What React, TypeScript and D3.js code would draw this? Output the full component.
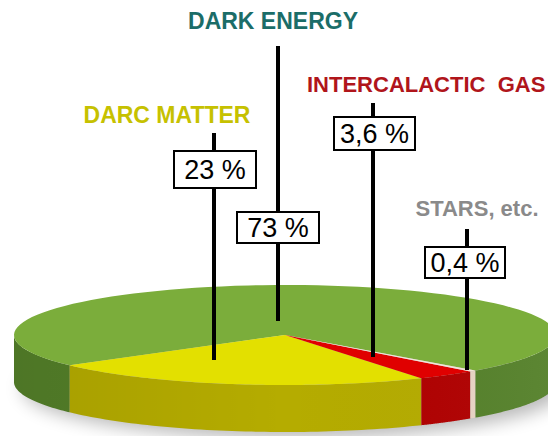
import React from "react";
import * as d3 from "d3";

// Composition of the universe
const categories = ["DARK ENERGY", "DARC MATTER", "INTERCALACTIC  GAS", "STARS, etc."];
const shares = [73, 23, 3.6, 0.4];
const valueLabels = ["73 %", "23 %", "3,6 %", "0,4 %"];

const topColors = ["#7bad3b", "#e3e000", "#e00000", "#f4e4d8"];
const sideColors = ["#548029", "#b5ac00", "#b00000", "#e8d4c4"];
const titleColors = ["#1b6d68", "#c6c100", "#b0151b", "#8a8a8a"];

// Label callouts: title anchor, value box and leader line
const callouts = [
  { tx: 273, ty: 29, lx: 278, lineTop: 46, lineBottom: 321, bx: 237, by: 212, bw: 82, bh: 31, fs: 23 },
  { tx: 167, ty: 123, lx: 214, lineTop: 133, lineBottom: 360, bx: 174, by: 151, bw: 82, bh: 37, fs: 23 },
  { tx: 307, ty: 92, lx: 373, lineTop: 103, lineBottom: 357, bx: 334, by: 117, bw: 81, bh: 33, fs: 22, anchor: "start" },
  { tx: 477, ty: 216, lx: 467, lineTop: 229, lineBottom: 370, bx: 425, by: 247, bw: 80, bh: 31, fs: 22 },
];

const W = 548;
const H = 436;
const cx = 285;
const cy = 335;
const rx = 271;
const ry = 50;
const depth = 47;
const startDeg = 135.4;

const pie = d3
  .pie<number>()
  .sort(null)
  .value((d) => d)
  .startAngle((startDeg * Math.PI) / 180)
  .endAngle(((startDeg - 360) * Math.PI) / 180);

const arcs = pie(shares);

const px = (t: number) => cx + rx * Math.cos(t);
const py = (t: number, dy = 0) => cy + dy + ry * Math.sin(t);

function samples(a: number, b: number, n = 90) {
  return d3.range(n + 1).map((i) => a + ((b - a) * i) / n);
}

function topPath(a: number, b: number) {
  const p = d3.path();
  p.moveTo(cx, cy);
  samples(a, b).forEach((t) => p.lineTo(px(t), py(t)));
  p.closePath();
  return p.toString();
}

function sidePath(a: number, b: number) {
  const p = d3.path();
  const ts = samples(a, b, 60);
  p.moveTo(px(ts[0]), py(ts[0]));
  ts.forEach((t) => p.lineTo(px(t), py(t)));
  ts.slice().reverse().forEach((t) => p.lineTo(px(t), py(t, depth)));
  p.closePath();
  return p.toString();
}

// Portions of [lo, hi] that face the viewer (screen angles 0..π)
function frontParts(lo: number, hi: number) {
  const out: [number, number][] = [];
  for (let k = -2; k <= 2; k++) {
    const s = Math.max(lo, k * 2 * Math.PI);
    const e = Math.min(hi, k * 2 * Math.PI + Math.PI);
    if (e > s) out.push([s, e]);
  }
  return out;
}

const slices = arcs.map((a, i) => {
  const s = a.startAngle - Math.PI / 2;
  const e = a.endAngle - Math.PI / 2;
  return { i, lo: Math.min(s, e), hi: Math.max(s, e) };
});

export default function App() {
  return (
    <svg width={W} height={H} style={{ position: "absolute", left: 0, top: 0, background: "#fff" }}>
      <defs>
        <filter id="shadowBlur" x="-20%" y="-100%" width="140%" height="300%">
          <feGaussianBlur stdDeviation="9" />
        </filter>
        <linearGradient id="sideShade" x1="0" x2="1" y1="0" y2="0">
          <stop offset="0" stopColor="#000" stopOpacity="0.08" />
          <stop offset="0.5" stopColor="#000" stopOpacity="0" />
          <stop offset="1" stopColor="#fff" stopOpacity="0.05" />
        </linearGradient>
      </defs>

      <ellipse cx={cx + 8} cy={cy + depth + 6} rx={rx} ry={ry} fill="#000" opacity={0.28} filter="url(#shadowBlur)" />

      <g>
        {slices.map((s) =>
          frontParts(s.lo, s.hi).map(([a, b], j) => (
            <path key={`side-${s.i}-${j}`} d={sidePath(a, b)} fill={sideColors[s.i]} />
          ))
        )}
        <path d={sidePath(0, Math.PI)} fill="url(#sideShade)" />
      </g>

      <g>
        {slices.map((s) => (
          <path key={`top-${s.i}`} d={topPath(s.lo, s.hi)} fill={topColors[s.i]} />
        ))}
      </g>

      <g fontFamily="'Liberation Sans', Arial, sans-serif">
        {callouts.map((c, i) => (
          <g key={`call-${i}`}>
            <text
              x={c.tx}
              y={c.ty}
              fontSize={c.fs}
              fontWeight="bold"
              fill={titleColors[i]}
              textAnchor={c.anchor ?? "middle"}
              style={{ whiteSpace: "pre" }}
            >
              {categories[i]}
            </text>
            <line x1={c.lx} x2={c.lx} y1={c.lineTop} y2={c.lineBottom} stroke="#000" strokeWidth={4} />
            <rect x={c.bx} y={c.by} width={c.bw} height={c.bh} fill="#fff" stroke="#000" strokeWidth={2} />
            <text
              x={c.bx + c.bw / 2}
              y={c.by + c.bh / 2 + 9.5}
              fontSize={27}
              textAnchor="middle"
              fill="#000"
            >
              {valueLabels[i]}
            </text>
          </g>
        ))}
      </g>
    </svg>
  );
}
